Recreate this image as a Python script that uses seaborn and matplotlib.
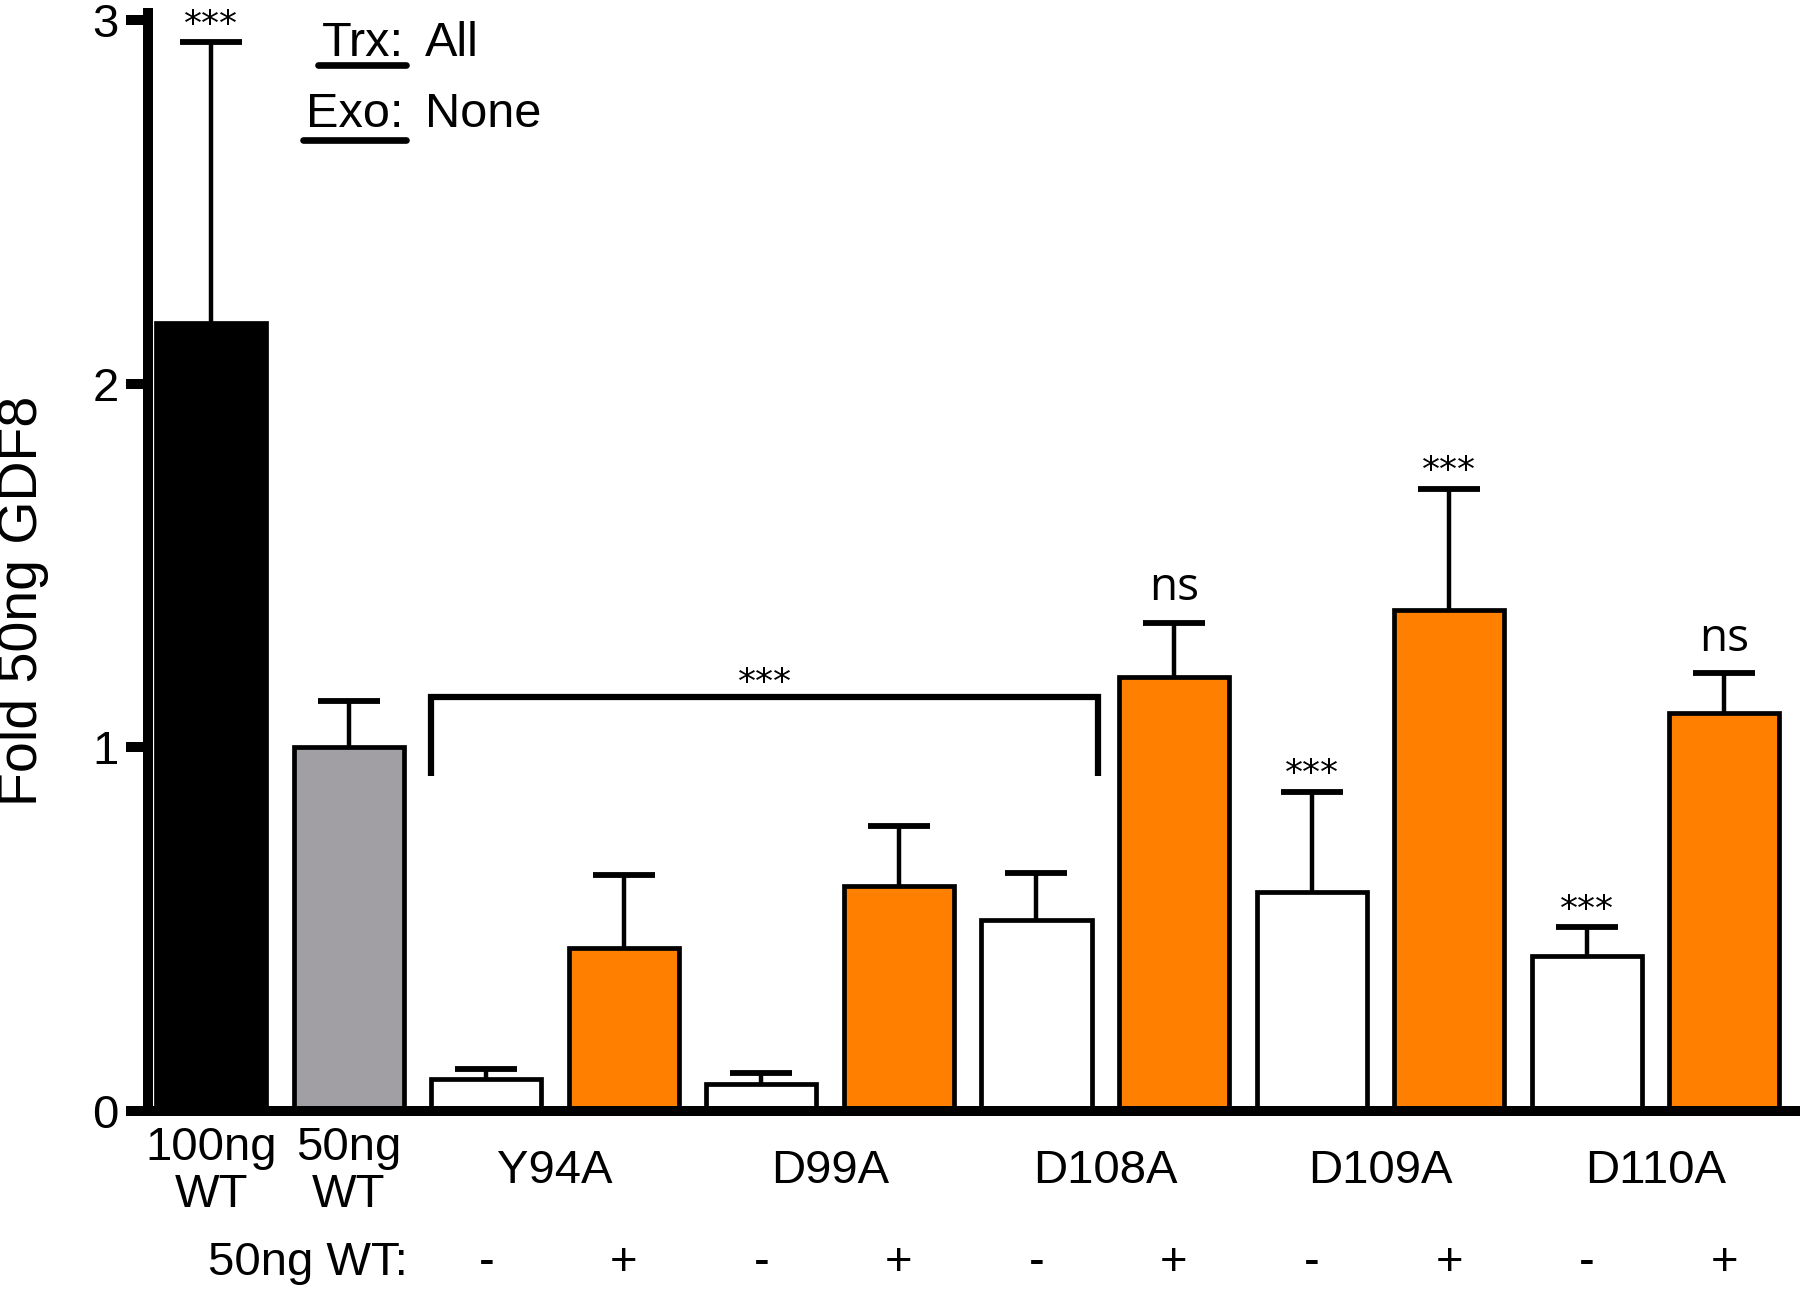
import numpy as np
import pandas as pd
import matplotlib
matplotlib.use("Agg")
import matplotlib.pyplot as plt
import seaborn as sns
from matplotlib.transforms import blended_transform_factory

# ---------------- data ----------------
conditions = ["100ng WT", "50ng WT",
              "Y94A -", "Y94A +", "D99A -", "D99A +", "D108A -", "D108A +",
              "D109A -", "D109A +", "D110A -", "D110A +"]
means = [2.166, 1.00, 0.088, 0.448, 0.073, 0.619, 0.524, 1.194, 0.603, 1.377, 0.426, 1.093]
errors = [0.774, 0.127, 0.026, 0.202, 0.031, 0.164, 0.130, 0.148, 0.275, 0.334, 0.079, 0.110]
bar_colors = ["#000000", "#A19FA4", "#FFFFFF", "#FF8000", "#FFFFFF", "#FF8000",
              "#FFFFFF", "#FF8000", "#FFFFFF", "#FF8000", "#FFFFFF", "#FF8000"]
wt_labels = ["100ng\nWT", "50ng\nWT"]
group_labels = ["Y94A", "D99A", "D108A", "D109A", "D110A"]
signs = ["-", "+", "-", "+", "-", "+", "-", "+", "-", "+"]
sig_marks = ["***", "", "", "", "", "", "", "ns", "***", "***", "***", "ns"]
bracket_label = "***"
yticks = [0, 1, 2, 3]

df = pd.DataFrame({"condition": conditions, "value": means})

sns.set_style("white")
plt.rcParams["font.family"] = ["Liberation Sans", "DejaVu Sans"]
plt.rcParams.update({"text.color": "black", "axes.labelcolor": "black",
                     "xtick.color": "black", "ytick.color": "black",
                     "axes.edgecolor": "black"})

fig = plt.figure(figsize=(18, 12.9), dpi=100)
ax = fig.add_axes([0.0822, 0.1388, 0.9162, 0.8457])

sns.barplot(data=df, x="condition", y="value", hue="condition", order=conditions,
            hue_order=conditions, palette=bar_colors, saturation=1, width=0.8,
            edgecolor="black", linewidth=3.4, legend=False, ax=ax, zorder=2)

xpos = np.arange(len(conditions))
eb = ax.errorbar(xpos, means, yerr=[np.zeros(len(means)), errors], fmt="none",
                 ecolor="black", elinewidth=3.2, capsize=22, capthick=4.2, zorder=3)
for cap in eb[1]:
    if np.allclose(cap.get_ydata(), means):
        cap.remove()

ax.set_xlim(-0.46, 11.53)
ax.set_ylim(0, 3)
ax.set_yticks(yticks)
ax.set_yticklabels([str(t) for t in yticks])
ax.tick_params(axis="y", length=16, width=7.2, labelsize=34, pad=5, direction="out",
               left=True, color="black", labelcolor="black")
ax.tick_params(axis="x", length=0, labelbottom=False)
ax.set_xlabel("")
ax.set_ylabel("Fold 50ng GDF8", fontsize=40, color="black")
ax.yaxis.set_label_coords(-0.06, 0.468)

for s in ["top", "right"]:
    ax.spines[s].set_visible(False)
ax.spines["left"].set_linewidth(7.2)
ax.spines["bottom"].set_linewidth(7.2)
ax.spines["left"].set_color("black")
ax.spines["bottom"].set_color("black")
ax.spines["left"].set_bounds(0, 3.02)
ax.spines["left"].set_zorder(4)
ax.spines["bottom"].set_zorder(4)

# x labels below axis
tr = blended_transform_factory(ax.transData, fig.transFigure)
for i, lab in enumerate(wt_labels):
    ax.text(xpos[i], 0.092, lab, transform=tr, ha="center", va="center",
            fontsize=34, linespacing=1.08)
for g, lab in enumerate(group_labels):
    xc = (xpos[2 + 2 * g] + xpos[3 + 2 * g]) / 2
    ax.text(xc, 0.092, lab, transform=tr, ha="center", va="center", fontsize=34)
ax.text(1.43, 0.021, "50ng WT:", transform=tr, ha="right", va="center", fontsize=34)
for i, sgn in enumerate(signs):
    ax.text(xpos[2 + i], 0.021, sgn, transform=tr, ha="center", va="center", fontsize=34)

# significance marks
for i, m in enumerate(sig_marks):
    if not m:
        continue
    top = means[i] + errors[i]
    if m == "ns":
        ax.text(xpos[i], top + 0.062, m, ha="center", va="baseline", fontsize=33,
                family=["Open Sans", "DejaVu Sans"])
    else:
        ax.text(xpos[i], top + 0.02, m, ha="center", va="baseline", fontsize=26,
                family=["DejaVu Sans"])

# bracket
bx0, bx1 = xpos[2] - 0.4, xpos[6] + 0.45
by_top, by_leg = 1.137, 0.922
ax.plot([bx0, bx0, bx1, bx1], [by_leg, by_top, by_top, by_leg], color="black",
        lw=4.5, solid_joinstyle="miter", solid_capstyle="butt", zorder=3)
ax.text((bx0 + bx1) / 2, by_top + 0.012, bracket_label, ha="center", va="baseline",
        fontsize=26, family=["DejaVu Sans"])

# Trx / Exo annotation with underlines
fig.canvas.draw()
renderer = fig.canvas.get_renderer()
for key, val, yb, yu in [("Trx:", "All", 0.9565, 0.9495), ("Exo:", "None", 0.9015, 0.8915)]:
    t = fig.text(0.2244, yb, key, ha="right", va="baseline", fontsize=35)
    fig.text(0.2361, yb, val, ha="left", va="baseline", fontsize=35)
    bb = t.get_window_extent(renderer).transformed(fig.transFigure.inverted())
    fig.add_artist(plt.Line2D([bb.x0 - 0.002, bb.x1 + 0.001], [yu, yu],
                              transform=fig.transFigure, color="black", lw=4.8))

fig.savefig("out.png", dpi=100)
